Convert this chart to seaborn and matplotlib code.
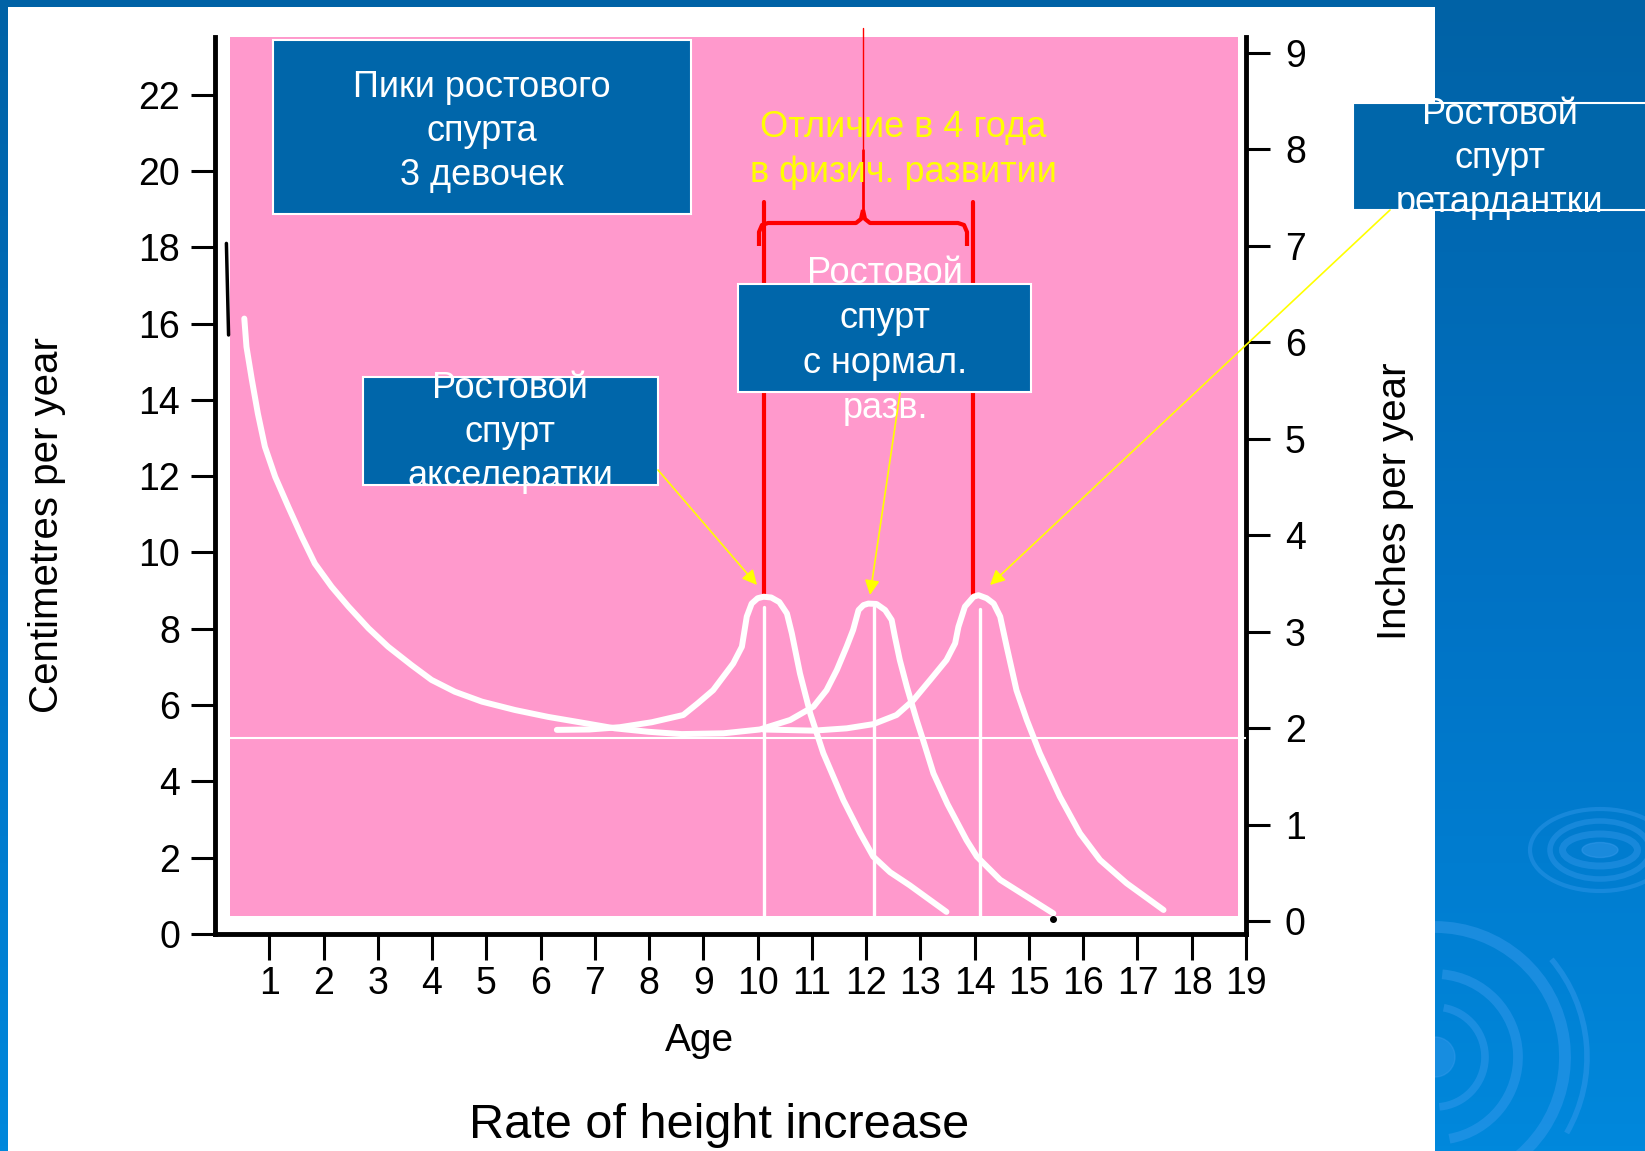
import numpy as np
import pandas as pd
import matplotlib.pyplot as plt
import matplotlib.patches as mpatches
from matplotlib.colors import LinearSegmentedColormap
import seaborn as sns

# growth velocity (cm per year) against age
age_early = [6.30, 6.90, 7.46, 8.05, 8.63, 8.90, 9.18, 9.55, 9.71, 9.80, 9.89, 10.00, 10.11,
             10.25, 10.40, 10.54, 10.63, 10.78, 10.97, 11.21, 11.58, 11.89, 12.13, 12.44,
             12.80, 13.12, 13.48]
cm_early = [5.35, 5.36, 5.42, 5.55, 5.74, 6.05, 6.39, 7.09, 7.53, 8.32, 8.66, 8.80, 8.84,
            8.82, 8.70, 8.40, 7.88, 6.83, 5.78, 4.74, 3.51, 2.64, 2.03, 1.62,
            1.28, 0.95, 0.58]

age_normal = [0.54, 0.58, 0.68, 0.79, 0.92, 1.11, 1.35, 1.60, 1.84, 2.15, 2.46, 2.83, 3.19,
              3.62, 3.99, 4.42, 4.92, 5.53, 6.14, 6.76, 7.37, 7.99, 8.60, 9.37,
              10.04, 10.60, 11.03, 11.27, 11.46, 11.64, 11.76, 11.86, 11.95, 12.04, 12.19,
              12.35, 12.47, 12.53, 12.62, 12.75, 12.93, 13.05, 13.24, 13.50, 13.85, 14.04,
              14.47, 14.96, 15.45]
cm_normal = [16.13, 15.39, 14.52, 13.64, 12.77, 11.98, 11.20, 10.41, 9.71, 9.10, 8.58, 8.01, 7.53,
             7.05, 6.66, 6.35, 6.09, 5.87, 5.69, 5.54, 5.39, 5.30, 5.24, 5.26,
             5.36, 5.61, 5.96, 6.39, 6.92, 7.53, 7.97, 8.49, 8.62, 8.66, 8.65,
             8.49, 8.23, 7.79, 7.18, 6.48, 5.61, 5.08, 4.21, 3.40, 2.46, 2.03,
             1.42, 0.98, 0.54]

age_late = [10.10, 11.03, 11.64, 12.13, 12.56, 12.87, 13.18, 13.48, 13.64, 13.70, 13.82, 13.98,
            14.07, 14.22, 14.35, 14.47, 14.59, 14.77, 14.96, 15.20, 15.57, 15.94, 16.31,
            16.80, 17.48]
cm_late = [5.36, 5.33, 5.39, 5.50, 5.74, 6.13, 6.66, 7.18, 7.62, 8.05, 8.58, 8.84,
           8.88, 8.80, 8.66, 8.32, 7.53, 6.39, 5.61, 4.74, 3.60, 2.64, 1.94,
           1.33, 0.63]

peak_ages = [10.12, 12.15, 14.10]
peak_line_tops = [8.58, 8.58, 8.53]
red_ages = [10.12, 13.96]
red_top, red_bottom = 19.19, 8.90
base_level = 5.15

cm_ticks = list(range(0, 23, 2))
age_ticks = list(range(1, 20))
inch_ticks = list(range(0, 10))
# the inch scale in the scan sits a little higher than the cm scale
inch_offset, cm_per_inch = 0.33, 2.53

sns.set_style("ticks")
plt.rcParams['font.family'] = ['Liberation Sans', 'DejaVu Sans']
plt.rcParams['text.color'] = 'black'

PINK = '#FF99CC'
BOX = '#0066AA'

fig = plt.figure(figsize=(16.45, 11.51), dpi=100)

# slide background (pixel coordinates)
bg = fig.add_axes([0, 0, 1, 1], zorder=0)
grad = np.linspace(0, 1, 256)[:, None]
slide = LinearSegmentedColormap.from_list('slide', ['#0062a6', '#0072c4', '#0088dc'])
bg.imshow(grad, cmap=slide, extent=(0, 1645, 1151, 0), aspect='auto')
ripple = '#3a9cee'
bg.add_patch(mpatches.Ellipse((1600, 850), 36, 15, color=ripple, alpha=0.45))
for w, h, lw in [(75, 32, 5), (100, 58, 4), (140, 82, 3)]:
    bg.add_patch(mpatches.Ellipse((1600, 850), w, h, fill=False, ec=ripple, lw=lw, alpha=0.4))
bg.add_patch(mpatches.Ellipse((1435, 1057), 40, 40, color=ripple, alpha=0.4))
for r, lw, t1, t2 in [(50, 5.5, -80, 85), (83, 7, -85, 80), (130, 8.5, -90, 75), (152, 4, -40, 30)]:
    bg.add_patch(mpatches.Arc((1435, 1057), r * 2, r * 2, theta1=t1, theta2=t2,
                              ec=ripple, lw=lw, alpha=0.45))
bg.add_patch(mpatches.Rectangle((8, 7), 1427, 1150, fc='white', ec='none'))
bg.set_xlim(0, 1645)
bg.set_ylim(1151, 0)
bg.axis('off')

# chart axes
ax = fig.add_axes([215 / 1645, 1 - 934 / 1151, 1031 / 1645, 897 / 1151], zorder=1)
ax.set_facecolor('none')
ax.add_patch(mpatches.Rectangle((0.285, 0.47), 18.85 - 0.285, 23.5 - 0.47,
                                fc=PINK, ec='none', zorder=0, clip_on=False))
ax.plot([0.285, 19], [base_level, base_level], color='white', lw=1.5, zorder=1)
for a, top in zip(peak_ages, peak_line_tops):
    ax.plot([a, a], [0.47, top], color='white', lw=2.4, zorder=1)
for a in red_ages:
    ax.plot([a, a], [red_bottom, red_top], color='red', lw=3, zorder=1, clip_on=False)

curves = pd.concat([
    pd.DataFrame({'age': age_early, 'cm': cm_early, 'girl': 'early'}),
    pd.DataFrame({'age': age_normal, 'cm': cm_normal, 'girl': 'normal'}),
    pd.DataFrame({'age': age_late, 'cm': cm_late, 'girl': 'late'}),
])
sns.lineplot(data=curves, x='age', y='cm', units='girl', estimator=None, sort=False,
             color='white', lw=4.3, ax=ax, zorder=2)
ax.plot([0.21, 0.25], [18.1, 15.7], color='black', lw=2.5, zorder=2)
ax.plot([15.44], [0.40], 'o', color='black', ms=4, zorder=2, clip_on=False)

ax.set_xlim(0, 19)
ax.set_ylim(0, 23.51)
ax.set_xticks(age_ticks)
ax.set_yticks(cm_ticks)
ax.set_xlabel('')
ax.set_ylabel('')
for s in ['left', 'bottom']:
    ax.spines[s].set_linewidth(3.5)
    ax.spines[s].set_color('black')
ax.spines['top'].set_visible(False)
ax.spines['right'].set_visible(False)
ax.tick_params(axis='y', direction='out', length=17, width=2.2, pad=8,
               labelsize=27, colors='black')
ax.tick_params(axis='x', direction='out', length=19, width=2.2, pad=4,
               labelsize=27, colors='black')

sec = ax.secondary_yaxis('right', functions=(lambda c: (c - inch_offset) / cm_per_inch,
                                             lambda i: i * cm_per_inch + inch_offset))
sec.set_yticks(inch_ticks)
sec.tick_params(direction='out', length=17, width=2.2, pad=11, labelsize=27, colors='black')
sec.spines['right'].set_linewidth(3.5)
sec.spines['right'].set_color('black')

# overlay for boxes, captions and arrows (pixel coordinates)
ov = fig.add_axes([0, 0, 1, 1], zorder=3)
ov.set_xlim(0, 1645)
ov.set_ylim(1151, 0)
ov.axis('off')

ov.text(699, 1041, 'Age', fontsize=28, ha='center', va='center')
ov.text(719, 1125, 'Rate of height increase', fontsize=35, ha='center', va='center')
ov.text(47, 525, 'Centimetres per year', fontsize=29, rotation=90, ha='center', va='center')
ov.text(1395, 501, 'Inches per year', fontsize=29, rotation=90, ha='center', va='center')

boxes = [
    ((273, 40, 418, 174), 482, [97, 141, 185], ['Пики ростового', 'спурта', '3 девочек']),
    ((363, 377, 295, 108), 510, [398, 442, 486], ['Ростовой', 'спурт', 'акселератки']),
    ((738, 284, 293, 108), 885, [283, 328, 373, 418], ['Ростовой', 'спурт', 'с нормал.', 'разв.']),
    ((1353, 103, 320, 107), 1500, [124, 168, 212], ['Ростовой', 'спурт', 'ретардантки']),
]
for (x0, y0, w, h), cx, ys, lines in boxes:
    ov.add_patch(mpatches.Rectangle((x0, y0), w, h, fc=BOX, ec='white', lw=1.5, zorder=1))
    for yb, line in zip(ys, lines):
        ov.text(cx, yb, line, fontsize=26, color='white', ha='center', va='baseline', zorder=2)

ov.text(903, 137, 'Отличие в 4 года', fontsize=26, color='#FFFF00', ha='center', va='baseline', zorder=2)
ov.text(903, 182, 'в физич. развитии', fontsize=26, color='#FFFF00', ha='center', va='baseline', zorder=2)

# red brace over the 4-year gap
brace_l = [(759, 246), (759, 232), (762, 225), (768, 223), (856, 223), (861, 219), (863, 210)]
brace_r = [(967, 246), (967, 232), (964, 225), (958, 223), (870, 223), (865, 219), (863, 210)]
for pts in (brace_l, brace_r):
    xs, ys = zip(*pts)
    ov.plot(xs, ys, color='red', lw=3, solid_capstyle='butt', zorder=0)
ov.plot([863, 863], [212, 150], color='red', lw=2, zorder=0)
ov.plot([863, 863], [150, 28], color='red', lw=1, zorder=0)

for (x0, y0), (x1, y1) in [((658, 470), (757, 585)), ((900, 393), (870, 595)),
                           ((1390, 210), (990, 585))]:
    ov.annotate('', xy=(x1, y1), xytext=(x0, y0),
                arrowprops=dict(arrowstyle='-|>', color='#FFFF00', lw=1.2,
                                mutation_scale=22, shrinkA=0, shrinkB=0), zorder=2)

fig.savefig('out.png', dpi=100)
